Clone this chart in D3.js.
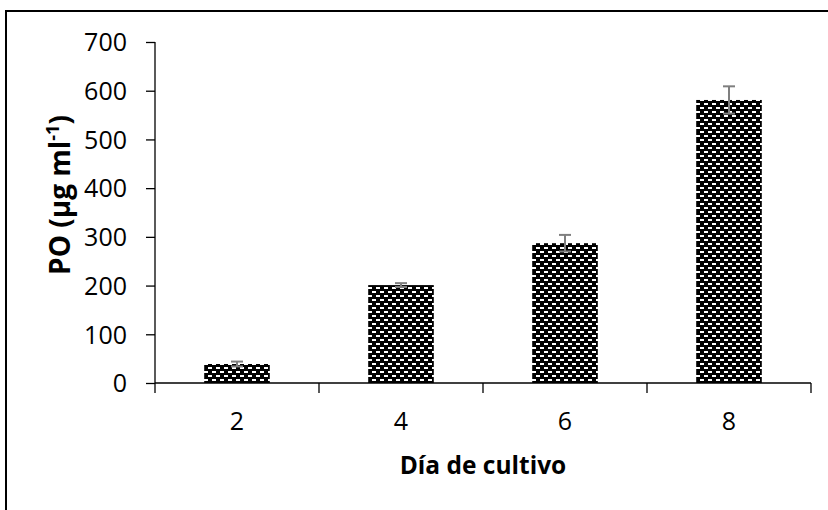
<!DOCTYPE html>
<html>
<head>
<meta charset="utf-8">
<script src="https://cdn.jsdelivr.net/npm/d3@7"></script>
<style>
  body { margin: 0; background: #fff; }
  text { font-family: "Open Sans", sans-serif; fill: #000; }
</style>
</head>
<body>
<script>
var days = ["2", "4", "6", "8"];
var po = [39, 201, 287, 581];
var poErr = [5, 4, 17, 28];
var yTicks = [0, 100, 200, 300, 400, 500, 600, 700];

var width = 828, height = 510;
var margin = { top: 42, right: 17, bottom: 127, left: 155 };
var innerW = width - margin.left - margin.right,
    innerH = height - margin.top - margin.bottom;
var fnt = "\"Open Sans\", sans-serif";

var svg = d3.select("body").append("svg")
  .attr("width", width)
  .attr("height", height);

// hatch pattern like excel's "dashed horizontal brick"
var pat = svg.append("defs").append("pattern")
  .attr("id", "brick")
  .attr("patternUnits", "userSpaceOnUse")
  .attr("width", 8).attr("height", 8);
pat.append("rect").attr("width", 8).attr("height", 8).attr("fill", "#000");
pat.append("rect").attr("x", 1).attr("y", 1).attr("width", 4).attr("height", 2).attr("fill", "#fff");
pat.append("rect").attr("x", 5).attr("y", 5).attr("width", 4).attr("height", 2).attr("fill", "#fff");
pat.append("rect").attr("x", -3).attr("y", 5).attr("width", 4).attr("height", 2).attr("fill", "#fff");

// chart area border
svg.append("rect")
  .attr("x", 6).attr("y", 11)
  .attr("width", 840).attr("height", 520)
  .attr("fill", "none").attr("stroke", "#000").attr("stroke-width", 2);

var g = svg.append("g")
  .attr("transform", "translate(" + margin.left + "," + margin.top + ")");

var x = d3.scaleBand().domain(days).range([0, innerW]).paddingInner(0.6).paddingOuter(0.3);
var xb = d3.scaleBand().domain(days).range([0, innerW]);
var y = d3.scaleLinear().domain([0, 700]).range([innerH, 0]);

g.selectAll(".bar")
  .data(days)
  .enter().append("rect")
    .attr("x", function(d) { return x(d); })
    .attr("y", function(d, i) { return y(po[i]); })
    .attr("width", x.bandwidth())
    .attr("height", function(d, i) { return innerH - y(po[i]); })
    .attr("fill", "url(#brick)");

// error bars
var eb = g.selectAll(".err").data(days).enter().append("g")
  .attr("stroke", "#7f7f7f").attr("stroke-width", 2);
eb.append("line")
  .attr("x1", function(d) { return x(d) + x.bandwidth() / 2; })
  .attr("x2", function(d) { return x(d) + x.bandwidth() / 2; })
  .attr("y1", function(d, i) { return y(po[i] - poErr[i]); })
  .attr("y2", function(d, i) { return y(po[i] + poErr[i]); });
[1, -1].forEach(function(s) {
  eb.append("line")
    .attr("x1", function(d) { return x(d) + x.bandwidth() / 2 - 6; })
    .attr("x2", function(d) { return x(d) + x.bandwidth() / 2 + 6; })
    .attr("y1", function(d, i) { return y(po[i] + s * poErr[i]); })
    .attr("y2", function(d, i) { return y(po[i] + s * poErr[i]); });
});

// y axis
var yAxis = g.append("g")
  .call(d3.axisLeft(y).tickValues(yTicks).tickSize(9).tickPadding(19));
yAxis.selectAll("line, path").attr("stroke", "#000").attr("stroke-width", 1.3);
yAxis.select(".domain").attr("d", "M0," + y(700) + "V" + innerH);
yAxis.selectAll("text").style("font-size", "25px").style("font-family", fnt).attr("dy", "0.35em");

// x axis
var xAxis = g.append("g")
  .attr("transform", "translate(0," + innerH + ")")
  .call(d3.axisBottom(xb).tickSize(0).tickPadding(29));
xAxis.select(".domain").attr("d", "M0,0H" + innerW).attr("stroke", "#000").attr("stroke-width", 1.3);
xAxis.selectAll("text").style("font-size", "25px").style("font-family", fnt);
xAxis.selectAll(".sep")
  .data(d3.range(days.length + 1))
  .enter().append("line")
    .attr("x1", function(i) { return i * xb.step(); })
    .attr("x2", function(i) { return i * xb.step(); })
    .attr("y1", 0).attr("y2", 10)
    .attr("stroke", "#000").attr("stroke-width", 1.3);

// axis titles
svg.append("text")
  .attr("x", margin.left + innerW / 2)
  .attr("y", 474)
  .attr("text-anchor", "middle")
  .style("font-size", "24.5px").style("font-weight", "bold")
  .text("Día de cultivo");

var yt = svg.append("text")
  .attr("transform", "translate(70,195) rotate(-90)")
  .attr("text-anchor", "middle")
  .style("font-size", "28px").style("font-weight", "bold");
yt.append("tspan").text("PO (µg ml");
yt.append("tspan").attr("dy", -11).style("font-size", "18px").text("-1");
yt.append("tspan").attr("dy", 11).text(")");
</script>
</body>
</html>
